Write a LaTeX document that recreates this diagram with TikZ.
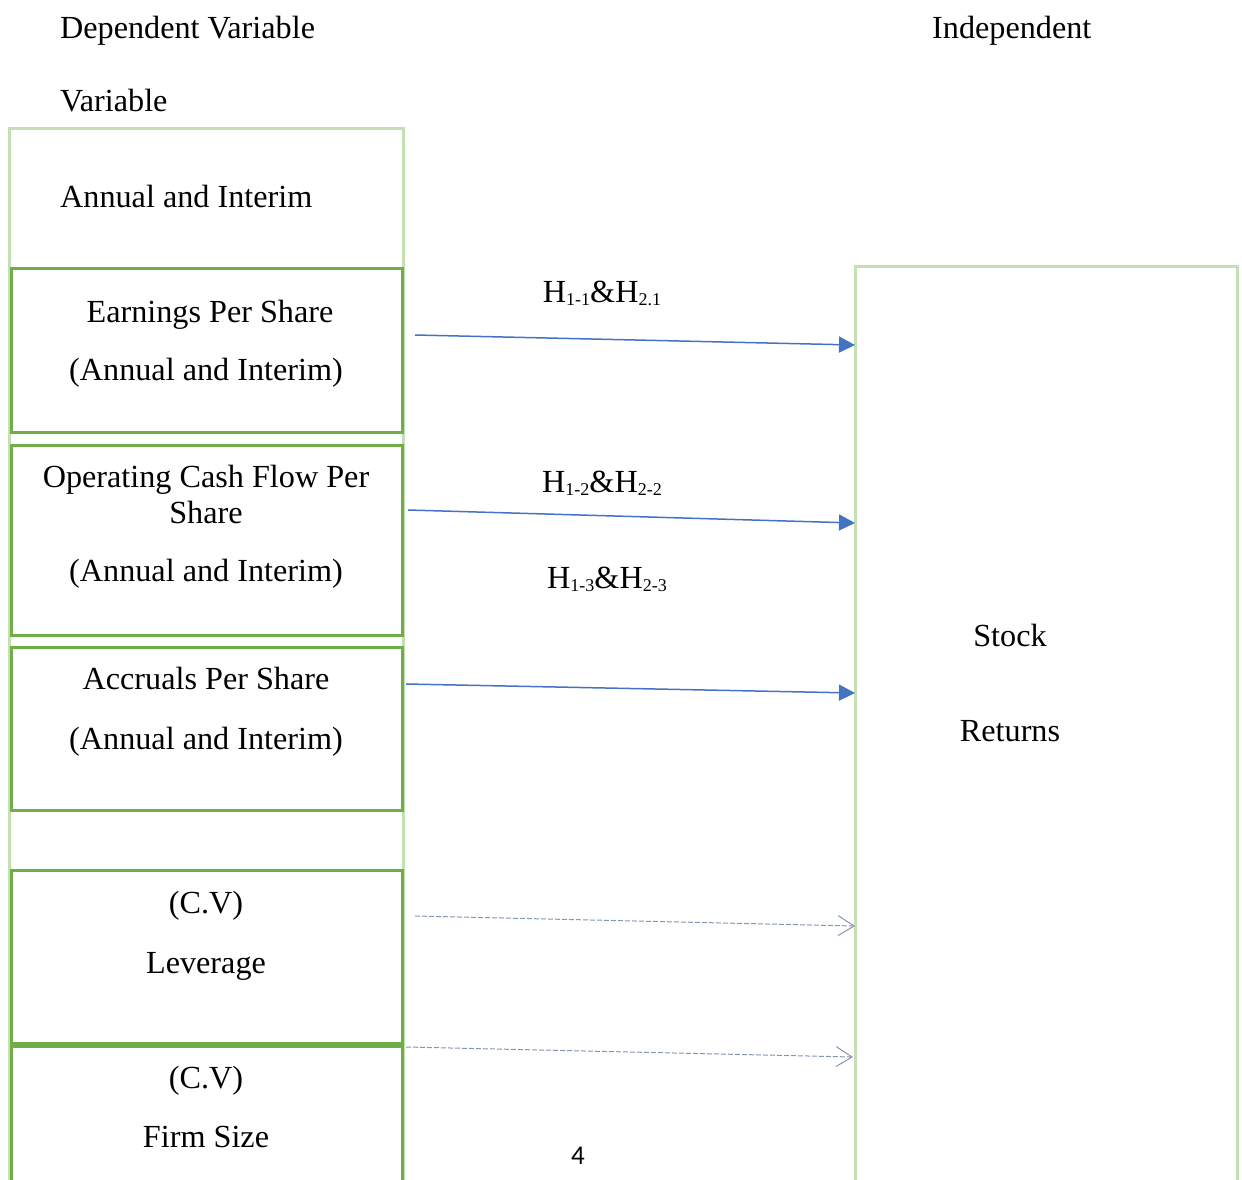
\documentclass[tikz,border=0pt]{standalone}
\usepackage{fontspec}
\setmainfont{Liberation Serif}
\newfontfamily\pagefont{Carlito}
\usetikzlibrary{arrows.meta,calc}
\definecolor{lightgr}{HTML}{C5E0B4}
\definecolor{darkgr}{HTML}{70AD47}
\definecolor{arrblue}{HTML}{4472C4}
\definecolor{dashblue}{HTML}{8497B0}
\tikzset{
 txt/.style={font=\fontsize{32.2}{38}\selectfont, inner sep=0pt, anchor=base},
 txtl/.style={txt, anchor=base west},
 outerbox/.style={draw=lightgr, line width=3pt, inner sep=0pt, outer sep=0pt, anchor=north west},
 innerbox/.style={draw=darkgr, line width=3pt, inner sep=0pt, outer sep=0pt, anchor=north west, minimum width=391pt},
 hyp/.style={draw=arrblue, line width=1.5pt, -{Triangle[length=16pt,width=16pt]}},
 ctrl/.style={draw=dashblue, line width=1pt, dash pattern=on 5pt off 2pt, -{Straight Barb[length=16pt,width=20pt,line width=1pt]}}
}
\newcommand{\hsub}[1]{\raisebox{-3pt}{\fontsize{18}{20}\selectfont #1}}
\begin{document}
\begin{tikzpicture}[x=1pt,y=-1pt]
\useasboundingbox (0,0) rectangle (1242,1180);
\clip (0,0) rectangle (1242,1180);
% boxes
\node[outerbox, minimum width=394pt, minimum height=1130pt] (outer) at (9,129) {};
\node[innerbox, minimum height=164pt] (eps) at (11,268) {};
\node[innerbox, minimum height=190pt] (ocf) at (11,445) {};
\node[innerbox, minimum height=163pt] (acc) at (11,647) {};
\node[innerbox, minimum height=173pt] (lev) at (11,870) {};
\node[innerbox, minimum height=200pt] (firm) at (11,1046) {};
\node[outerbox, minimum width=382pt, minimum height=1000pt] (ret) at (855,266) {};
% headings
\node[txtl] (dep) at (60,39) {Dependent Variable};
\node[txtl] (depv) at (60,112) {Variable};
\node[txtl] (indep) at (932,39) {Independent};
\node[txtl] (ai) at (60,207) {Annual and Interim};
% box texts
\node[txt] (eps1) at (210,322) {Earnings Per Share};
\node[txt] (eps2) at (206,380) {(Annual and Interim)};
\node[txt] (ocf1) at (206,487) {Operating Cash Flow Per};
\node[txt] (ocf2) at (206,523) {Share};
\node[txt] (ocf3) at (206,581) {(Annual and Interim)};
\node[txt] (acc1) at (206,689) {Accruals Per Share};
\node[txt] (acc2) at (206,749) {(Annual and Interim)};
\node[txt] (lev1) at (206,913) {(C.V)};
\node[txt] (lev2) at (206,973) {Leverage};
\node[txt] (firm1) at (206,1088) {(C.V)};
\node[txt] (firm2) at (206,1147) {Firm Size};
\node[txt] (stock) at (1010,646) {Stock};
\node[txt] (returns) at (1010,741) {Returns};
% hypothesis labels
\node[txt] (h1) at (602,302) {H\hsub{1-1}\&H\hsub{2.1}};
\node[txt] (h2) at (602,492) {H\hsub{1-2}\&H\hsub{2-2}};
\node[txt] (h3) at (607,588) {H\hsub{1-3}\&H\hsub{2-3}};
% page number
\node[inner sep=0pt, anchor=base, font=\pagefont\fontsize{27}{30}\selectfont] (pg) at (578,1164) {4};
% arrows
\coordinate (s1) at (415,335); \coordinate (e1) at ($(ret.north west)+(0,79)$);
\coordinate (s2) at (408,510); \coordinate (e2) at ($(ret.north west)+(0,257)$);
\coordinate (s3) at (406,684); \coordinate (e3) at ($(ret.north west)+(0,427)$);
\coordinate (s4) at (415,916); \coordinate (e4) at ($(ret.north west)+(0,660)$);
\coordinate (s5) at (406,1047); \coordinate (e5) at ($(ret.north west)+(-2,791)$);
\draw[hyp] (s1) -- (e1);
\draw[hyp] (s2) -- (e2);
\draw[hyp] (s3) -- (e3);
\draw[ctrl] (s4) -- (e4);
\draw[ctrl] (s5) -- (e5);
\end{tikzpicture}
\end{document}
